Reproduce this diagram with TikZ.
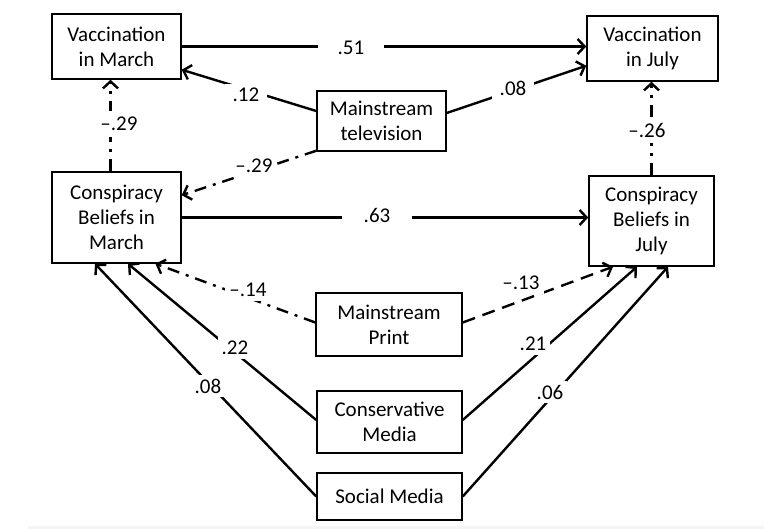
\documentclass[tikz,border=0pt]{standalone}
\usepackage{fontspec}
\setmainfont{Carlito}
\usetikzlibrary{arrows.meta}
\begin{document}
\begin{tikzpicture}[x=1pt,y=-1pt,
  box/.style={draw, line width=1.5pt, align=center, inner sep=0pt, font=\fontsize{21}{25}\selectfont},
  conn/.style={line width=2.4pt, -{Straight Barb[length=7pt,width=15pt]}},
  dashdot/.style={conn, dash pattern=on 12pt off 7pt on 3pt off 7pt},
  dsh/.style={conn, dash pattern=on 13pt off 8pt},
  lbl/.style={fill=white, inner sep=4pt, font=\fontsize{21}{25}\selectfont}
]
\useasboundingbox (0,0) rectangle (764,529);
\fill[black!4] (28,526) rectangle (764,529);

\node[box, minimum width=129pt, minimum height=65pt] (vm) at (116.5,46.5) {Vaccination\\in March};
\node[box, minimum width=131pt, minimum height=65pt] (vj) at (652.5,48.5) {Vaccination\\in July};
\node[box, minimum width=129pt, minimum height=60pt] (mtv) at (381.5,121) {Mainstream\\television};
\node[box, minimum width=129pt, minimum height=91pt] (cbm) at (116.5,217.5) {Conspiracy\\Beliefs in\\March};
\node[box, minimum width=125pt, minimum height=90pt] (cbj) at (651.5,221) {Conspiracy\\Beliefs in\\July};
\node[box, minimum width=146pt, minimum height=63pt] (mp) at (389,324.5) {Mainstream\\Print};
\node[box, minimum width=145pt, minimum height=62pt] (cm) at (389.5,422) {Conservative\\Media};
\node[box, minimum width=145pt, minimum height=47pt] (sm) at (389.5,496.5) {Social Media};

% connectors
\draw[conn] (vm.east) -- (vj.west |- vm.east);
\draw[conn] ([yshift=10pt]mtv.west) -- ([yshift=10pt]vm.south east);
\draw[conn] ([yshift=8pt]mtv.east) -- ([yshift=16pt]vj.south west);
\draw[dashdot] ([xshift=-6pt]cbm.north) -- ([xshift=-6pt]vm.south);
\draw[dashdot] ([yshift=1pt]mtv.south west) -- ([yshift=-24pt]cbm.north east);
\draw[dashdot] (cbj.north) -- (cbj.north |- vj.south);
\draw[conn] (cbm.east) -- (cbj.west |- cbm.east);
\draw[dashdot] ([yshift=2pt]mp.west) -- ([xshift=39pt]cbm.south);
\draw[dsh] ([yshift=2pt]mp.east) -- ([xshift=-38.5pt]cbj.south);
\draw[conn] ([yshift=2pt]cm.west) -- ([xshift=11.5pt]cbm.south);
\draw[conn] ([yshift=2pt]cm.east) -- ([xshift=-14.5pt]cbj.south);
\draw[conn] (sm.west) -- ([xshift=-21.5pt]cbm.south);
\draw[conn] (sm.east) -- ([xshift=16.5pt]cbj.south);

% labels
\node[lbl, inner xsep=20pt] (l51) at (351,48) {.51};
\node[lbl, inner xsep=8pt] (l12) at (246,95) {.12};
\node[lbl, inner xsep=8pt] (l08a) at (513,88) {.08};
\node[lbl, inner xsep=1pt, inner ysep=6pt] (l29a) at (119,124) {–.29};
\node[lbl] (l29b) at (254,166) {–.29};
\node[lbl, inner xsep=1pt, inner ysep=6pt] (l26) at (647,130) {–.26};
\node[lbl, inner xsep=22pt] (l63) at (377,215) {.63};
\node[lbl] (l14) at (248,290) {–.14};
\node[lbl] (l13) at (521,283) {–.13};
\node[lbl] (l22) at (235,348) {.22};
\node[lbl] (l08b) at (208,386) {.08};
\node[lbl] (l21) at (533,344) {.21};
\node[lbl] (l06) at (550,392) {.06};
\end{tikzpicture}
\end{document}
